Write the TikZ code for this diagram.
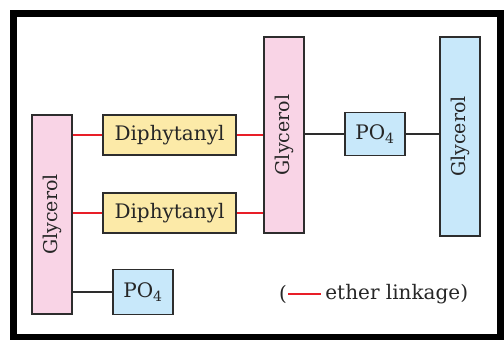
\documentclass[tikz,border=0pt]{standalone}
\usepackage{fontspec}
\setmainfont{DejaVu Serif}
\usepackage{xcolor}
\usetikzlibrary{positioning,calc}
\definecolor{glypink}{RGB}{249, 212, 230}
\definecolor{glyblue}{RGB}{200, 232, 250}
\definecolor{chainyellow}{RGB}{252, 234, 168}
\definecolor{edgegray}{RGB}{45, 45, 45}
\definecolor{etherred}{RGB}{232, 30, 40}

\tikzset{
  unit/.style={draw=edgegray, line width=1.5pt, inner sep=0pt, text=black!85, font=\fontsize{20}{22}\selectfont},
  glycerol/.style={unit, minimum height=40pt, rotate=90, font=\fontsize{19}{21}\selectfont},
  chain/.style={unit, fill=chainyellow, minimum width=133pt, minimum height=40pt},
  phosphate/.style={unit, fill=glyblue, minimum width=60pt},
  ether/.style={etherred, line width=1.8pt},
  bond/.style={edgegray, line width=2pt},
  legendtext/.style={inner sep=0pt, text=black!85, font=\fontsize{20}{22}\selectfont}
}

\begin{document}
\begin{tikzpicture}[x=1pt, y=-1pt]
\useasboundingbox (0,0) rectangle (504,340);
\draw[black, line width=7pt] (13.5,13) rectangle (500,337);

% lipid units
\node[glycerol, fill=glypink, minimum width=199pt] (gly1) at (52,214.5) {Glycerol};
\node[chain] (dip1) at (169.5,135) {Diphytanyl};
\node[chain] (dip2) at (169.5,213) {Diphytanyl};
\node[phosphate, minimum height=45pt] (po4b) at (143,292) {PO\textsubscript{4}};
\node[glycerol, fill=glypink, minimum width=196pt] (gly2) at (284,135) {Glycerol};
\node[phosphate, minimum height=43pt] (po4a) at (375,134) {PO\textsubscript{4}};
\node[glycerol, fill=glyblue, minimum width=199pt] (gly3) at (460,136.5) {Glycerol};

% linkages
\draw[ether] (gly1.south |- dip1.west) -- (dip1.west);
\draw[ether] (gly1.south |- dip2.west) -- (dip2.west);
\draw[ether] (dip1.east) -- (dip1.east -| gly2.north);
\draw[ether] (dip2.east) -- (dip2.east -| gly2.north);
\draw[bond] (gly1.south |- po4b.west) -- (po4b.west);
\draw[bond] (gly2.south |- po4a.west) -- (po4a.west);
\draw[bond] (po4a.east) -- (po4a.east -| gly3.north);

% legend
\node[legendtext, anchor=west] (lparen) at (279,294) {(};
\node[legendtext, right=38pt of lparen] (ethertxt) {ether linkage)};
\draw[ether] ($(lparen.east)+(1,0)$) -- ($(ethertxt.west)+(-4,0)$);
\end{tikzpicture}
\end{document}
